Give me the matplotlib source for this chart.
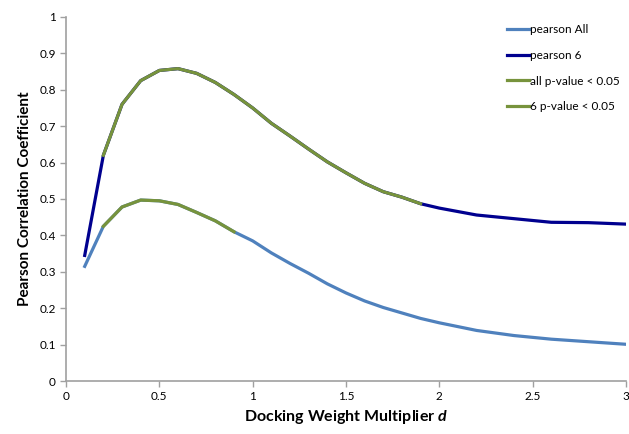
import numpy as np
import matplotlib.pyplot as plt
from matplotlib.ticker import FuncFormatter

plt.rcParams['font.family'] = ['Lato', 'DejaVu Sans']
plt.rcParams['mathtext.fontset'] = 'custom'
plt.rcParams['mathtext.bfit'] = 'Lato:bold:italic'
plt.rcParams['mathtext.it'] = 'Lato:italic'
plt.rcParams['mathtext.bf'] = 'Lato:bold'
plt.rcParams['mathtext.rm'] = 'Lato'

# docking weight multiplier values
d = [0.1, 0.2, 0.3, 0.4, 0.5, 0.6, 0.7, 0.8, 0.9, 1.0,
     1.1, 1.2, 1.3, 1.4, 1.5, 1.6, 1.7, 1.8, 1.9, 2.0,
     2.2, 2.4, 2.6, 2.8, 3.0]

pearson_all = [0.315, 0.425, 0.478, 0.497, 0.495, 0.485, 0.463, 0.440, 0.410, 0.385,
               0.352, 0.323, 0.296, 0.267, 0.242, 0.220, 0.202, 0.187, 0.172, 0.160,
               0.139, 0.125, 0.115, 0.108, 0.101]

pearson_6 = [0.345, 0.620, 0.760, 0.825, 0.853, 0.858, 0.845, 0.820, 0.787, 0.750,
             0.708, 0.673, 0.637, 0.602, 0.572, 0.543, 0.520, 0.505, 0.487, 0.475,
             0.456, 0.446, 0.436, 0.435, 0.431]

# points where p-value < 0.05
all_sig_idx = list(range(1, 9))     # d = 0.2 .. 0.9
six_sig_idx = list(range(1, 19))    # d = 0.2 .. 1.9

fig = plt.figure(figsize=(6.29, 4.34), dpi=100)
ax = fig.add_axes([0.105, 0.122, 0.89, 0.839])

lw = 2.3
ax.plot(d, pearson_all, color="#4F81BD", lw=lw, label="pearson All")
ax.plot(d, pearson_6, color="#00008F", lw=lw, label="pearson 6")
ax.plot([d[i] for i in all_sig_idx], [pearson_all[i] for i in all_sig_idx],
        color="#77933C", lw=lw, label="all p-value < 0.05")
ax.plot([d[i] for i in six_sig_idx], [pearson_6[i] for i in six_sig_idx],
        color="#77933C", lw=lw, label="6 p-value < 0.05")

ax.set_xlim(0, 3)
ax.set_ylim(0, 1)
ax.set_xticks(np.arange(0, 3.01, 0.5))
ax.set_yticks(np.arange(0, 1.01, 0.1))
fmt = FuncFormatter(lambda v, p: "%g" % round(v, 2))
ax.xaxis.set_major_formatter(fmt)
ax.yaxis.set_major_formatter(fmt)

for s in ["top", "right"]:
    ax.spines[s].set_visible(False)
for s in ["left", "bottom"]:
    ax.spines[s].set_color("#A0A0A0")
    ax.spines[s].set_linewidth(1.2)
ax.tick_params(colors="#A0A0A0", labelcolor="black", labelsize=8.5, length=4, width=1)

ax.set_xlabel(r"Docking Weight Multiplier $\mathbfit{d}$", fontsize=11.5, fontweight="bold", labelpad=4)
ax.set_ylabel("Pearson Correlation Coefficient", fontsize=11, fontweight="bold", labelpad=5)

fig.legend(loc="upper left", bbox_to_anchor=(507 / 629, 1 - 24 / 434), frameon=False,
           fontsize=8.5, handlelength=1.85, handletextpad=0.1, labelspacing=1.25,
           borderpad=0, borderaxespad=0)

fig.savefig("out.png", dpi=100)
